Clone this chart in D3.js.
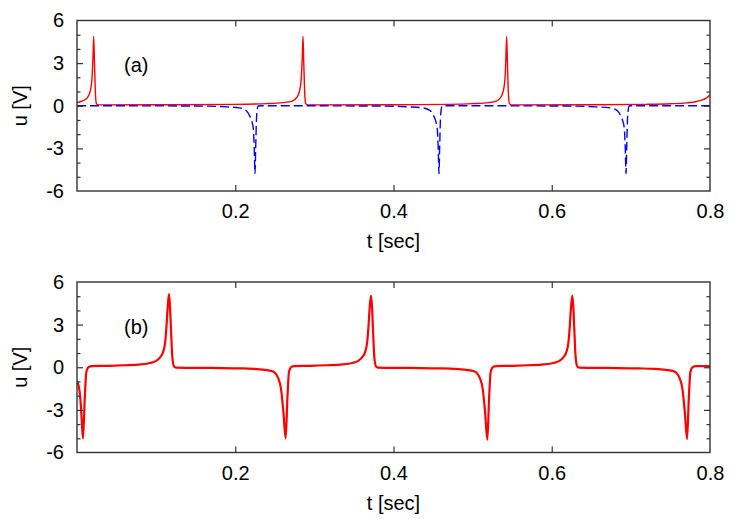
<!DOCTYPE html>
<html><head><meta charset="utf-8">
<script src="https://cdn.jsdelivr.net/npm/d3@7"></script>
<style>
body{margin:0;background:#fff;}
text{font-family:"Liberation Sans",Arial,sans-serif;fill:#000;}
</style></head>
<body><svg id="c" width="747" height="519"></svg>
<script>
// ---- data ----
const xTicks = [0.2, 0.4, 0.6, 0.8];
const xMinorTicks = [0.2, 0.4, 0.6];
const yTicks = [-6, -3, 0, 3, 6];
const yMinorTicks = [-5, -4, -2, -1, 1, 2, 4, 5];
const panelLabels = ["(a)", "(b)"];
const xLabel = "t [sec]";
const yLabel = "u [V]";

// panel (a), red solid
const redA = [
 [0,0.22],[0.005,0.3],[0.01,0.42],[0.014,0.65],[0.017,1.1],[0.019,2.0],[0.0202,3.4],[0.0211,4.88],[0.022,3.2],[0.0232,1.0],[0.0245,0.15],[0.027,0.06],
 [0.1,0.07],[0.2,0.1],[0.24,0.15],[0.26,0.22],[0.272,0.32],[0.278,0.6],[0.2815,1.1],[0.2835,2.0],[0.2847,3.4],[0.2856,4.88],[0.2865,3.2],[0.2877,1.0],[0.289,0.15],[0.292,0.06],
 [0.4,0.07],[0.47,0.1],[0.5,0.15],[0.52,0.22],[0.53,0.32],[0.5355,0.6],[0.539,1.1],[0.541,2.0],[0.5421,3.4],[0.543,4.88],[0.5439,3.2],[0.5451,1.0],[0.5465,0.15],[0.549,0.06],
 [0.65,0.07],[0.72,0.1],[0.75,0.14],[0.77,0.2],[0.783,0.3],[0.792,0.45],[0.797,0.6],[0.8,0.78]
];
// panel (a), blue dashed
const blueA = [
 [0,0],[0.15,-0.02],[0.19,-0.08],[0.205,-0.15],[0.214,-0.35],[0.2186,-0.75],[0.221,-1.1],[0.2228,-1.6],[0.224,-3.0],[0.225,-4.78],[0.2258,-3.0],[0.2271,-0.65],[0.229,-0.02],[0.232,0],
 [0.38,-0.02],[0.42,-0.08],[0.4375,-0.15],[0.4465,-0.35],[0.4511,-0.75],[0.4535,-1.1],[0.4553,-1.6],[0.4565,-3.0],[0.4575,-4.78],[0.4583,-3.0],[0.4596,-0.65],[0.4615,-0.02],[0.464,0],
 [0.62,-0.02],[0.655,-0.08],[0.674,-0.15],[0.683,-0.35],[0.6875,-0.75],[0.6899,-1.1],[0.6917,-1.6],[0.6929,-3.0],[0.6939,-4.78],[0.6947,-3.0],[0.696,-0.65],[0.6979,-0.02],[0.70,0],[0.8,0]
];
// panel (b), red solid
const redB = [
 [0,-0.95],[0.003,-1.6],[0.005,-2.8],[0.0065,-4.2],[0.0076,-5.0],[0.0098,-2.2],[0.0119,-0.3],[0.0152,0.04],[0.0186,0.08],
 [0.04,0.1],[0.0603,0.14],[0.0803,0.2],[0.0923,0.3],[0.1,0.45],[0.105,0.7],[0.109,1.1],[0.1115,1.8],[0.113,2.8],[0.1146,4.2],[0.1163,5.15],[0.1175,4.3],[0.1187,2.8],[0.1205,0.7],[0.1226,0.05],[0.125,-0.02],
 [0.17,-0.05],[0.21,-0.08],[0.2237,-0.12],[0.2397,-0.2],[0.2477,-0.3],[0.2544,-0.78],[0.2578,-1.5],[0.2608,-3.1],[0.2637,-5.0],[0.2659,-2.2],[0.268,-0.3],[0.2713,0.04],[0.2747,0.08],
 [0.295,0.1],[0.3156,0.14],[0.3356,0.2],[0.3476,0.3],[0.3553,0.45],[0.3603,0.7],[0.3643,1.1],[0.3668,1.8],[0.3683,2.8],[0.3699,4.2],[0.3716,5.05],[0.3728,4.3],[0.374,2.8],[0.3758,0.7],[0.3779,0.05],[0.3803,-0.02],
 [0.42,-0.05],[0.46,-0.08],[0.4786,-0.12],[0.4946,-0.2],[0.5026,-0.3],[0.5093,-0.78],[0.5127,-1.5],[0.5157,-3.1],[0.5186,-5.1],[0.5208,-2.2],[0.5229,-0.3],[0.5262,0.04],[0.5296,0.08],
 [0.55,0.1],[0.57,0.14],[0.59,0.2],[0.602,0.3],[0.6097,0.45],[0.6147,0.7],[0.6187,1.1],[0.6212,1.8],[0.6227,2.8],[0.6243,4.2],[0.626,5.05],[0.6272,4.3],[0.6284,2.8],[0.6302,0.7],[0.6323,0.05],[0.6347,-0.02],
 [0.67,-0.05],[0.71,-0.08],[0.731,-0.12],[0.747,-0.2],[0.755,-0.3],[0.7617,-0.78],[0.7651,-1.5],[0.7681,-3.1],[0.771,-5.05],[0.7732,-2.2],[0.7753,-0.3],[0.7786,0.04],[0.782,0.08],[0.8,0.08]
];

// ---- drawing ----
const svg = d3.select("#c");
const left = 77, right = 710;
const FS = 20;
const panels = [
  {top: 20.5, bottom: 191, label: panelLabels[0], series: [
     {data: redA, color: "#ff0000", width: 1.4, dash: null},
     {data: blueA, color: "#0000ff", width: 1.4, dash: "9,4"}]},
  {top: 282, bottom: 452.5, label: panelLabels[1], series: [
     {data: redB, color: "#ff0000", width: 2.2, dash: null}]}
];

panels.forEach(p => {
  const x = d3.scaleLinear().domain([0, 0.8]).range([left, right]);
  const y = d3.scaleLinear().domain([-6, 6]).range([p.bottom, p.top]);
  const g = svg.append("g");
  const clipId = "clip" + p.label.replace(/\W/g, "");
  g.append("clipPath").attr("id", clipId).append("rect")
    .attr("x", left).attr("y", p.top).attr("width", right - left).attr("height", p.bottom - p.top);

  const line = d3.line().x(d => x(d[0])).y(d => y(d[1])).curve(d3.curveMonotoneX);
  p.series.forEach(s => {
    g.append("path").datum(s.data)
      .attr("clip-path", `url(#${clipId})`)
      .attr("d", line).attr("fill", "none")
      .attr("stroke", s.color).attr("stroke-width", s.width)
      .attr("stroke-linejoin", "round")
      .attr("stroke-dasharray", s.dash);
  });

  const tc = "#333";
  const bottomAx = d3.axisBottom(x).tickValues(xTicks).tickSize(0).tickPadding(13).tickFormat(d3.format(".1f"));
  const bg = g.append("g").attr("transform", `translate(0,${p.bottom})`).call(bottomAx);
  bg.select(".domain").remove();
  bg.selectAll("text").attr("font-size", FS).attr("font-family", "Liberation Sans, Arial, sans-serif");
  const xb = d3.axisTop(x).tickValues(xMinorTicks).tickSize(6).tickFormat("");
  const gxb = g.append("g").attr("transform", `translate(0,${p.bottom})`).call(xb);
  gxb.select(".domain").remove(); gxb.selectAll("line").attr("stroke", tc).attr("stroke-width", 1.2);
  const xt = d3.axisBottom(x).tickValues(xMinorTicks).tickSize(6).tickFormat("");
  const gxt = g.append("g").attr("transform", `translate(0,${p.top})`).call(xt);
  gxt.select(".domain").remove(); gxt.selectAll("line").attr("stroke", tc).attr("stroke-width", 1.2);

  const leftAx = d3.axisLeft(y).tickValues(yTicks).tickSize(0).tickPadding(13).tickFormat(d => String(d));
  const lg = g.append("g").attr("transform", `translate(${left},0)`).call(leftAx);
  lg.select(".domain").remove();
  lg.selectAll("text").attr("font-size", FS).attr("font-family", "Liberation Sans, Arial, sans-serif");
  [[yTicks.slice(1, -1), 6], [yMinorTicks, 3.5]].forEach(([vals, len]) => {
    const a1 = d3.axisRight(y).tickValues(vals).tickSize(len).tickFormat("");
    const g1 = g.append("g").attr("transform", `translate(${left},0)`).call(a1);
    g1.select(".domain").remove(); g1.selectAll("line").attr("stroke", tc).attr("stroke-width", 1.2);
    const a2 = d3.axisLeft(y).tickValues(vals).tickSize(len).tickFormat("");
    const g2 = g.append("g").attr("transform", `translate(${right},0)`).call(a2);
    g2.select(".domain").remove(); g2.selectAll("line").attr("stroke", tc).attr("stroke-width", 1.2);
  });

  g.append("rect").attr("x", left).attr("y", p.top).attr("width", right - left).attr("height", p.bottom - p.top)
    .attr("fill", "none").attr("stroke", tc).attr("stroke-width", 1.4);

  g.append("text").attr("x", (left + right) / 2).attr("y", p.bottom + 57)
    .attr("text-anchor", "middle").attr("font-size", FS).text(xLabel);
  g.append("text").attr("transform", `translate(27,${(p.top + p.bottom) / 2}) rotate(-90)`)
    .attr("text-anchor", "middle").attr("font-size", FS).text(yLabel);
  g.append("text").attr("x", 124).attr("y", y(3) + 2).attr("dy", "0.35em")
    .attr("font-size", FS).text(p.label);
});
</script></body></html>
